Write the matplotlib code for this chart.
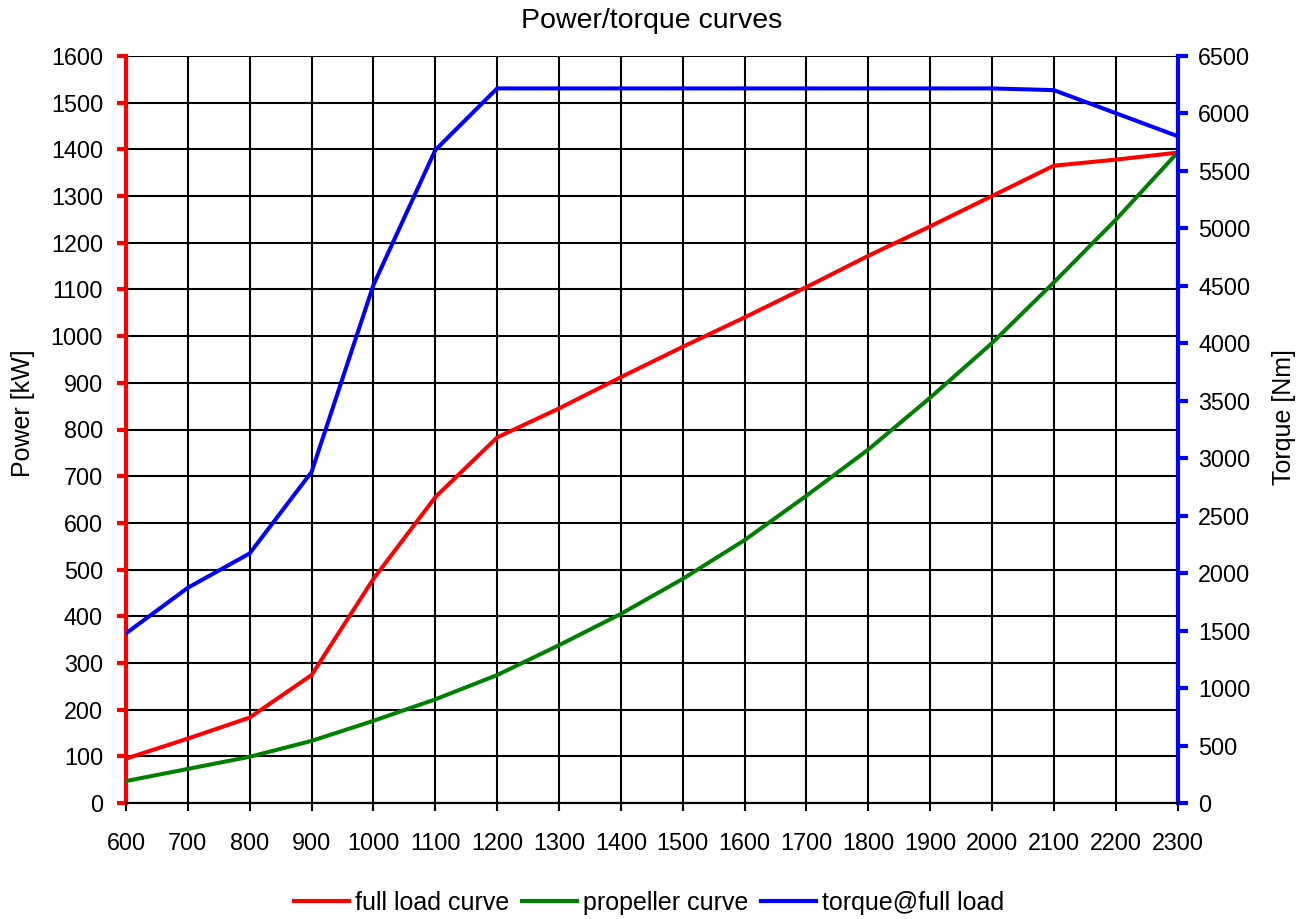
import matplotlib
matplotlib.use("Agg")
import matplotlib.pyplot as plt
from matplotlib.lines import Line2D

plt.rcParams['font.family'] = ['Liberation Sans', 'DejaVu Sans']

rpm = [600, 700, 800, 900, 1000, 1100, 1200, 1300, 1400, 1500, 1600, 1700,
       1800, 1900, 2000, 2100, 2200, 2300]
full_load = [95, 138, 183, 274, 480, 655, 783, 845, 912, 977, 1040, 1105,
             1172, 1235, 1300, 1365, 1378, 1393]
propeller = [47, 73, 99, 133, 176, 222, 274, 338, 405, 480, 563, 658,
             757, 868, 985, 1115, 1249, 1393]
torque = [1476, 1873, 2172, 2880, 4507, 5681, 6218, 6218, 6218, 6218, 6218,
          6218, 6218, 6218, 6218, 6203, 6003, 5803]

x_ticks = list(range(600, 2301, 100))
p_ticks = list(range(0, 1601, 100))
t_ticks = list(range(0, 6501, 500))

fig = plt.figure(figsize=(13.05, 9.19), dpi=100)
ax = fig.add_axes([126/1305, 1 - 803/919, (1177.5-126)/1305, (803-56)/919])
ax2 = ax.twinx()

ax.plot(rpm, full_load, color='#ff0000', lw=2.9, label='full load curve', zorder=3)
ax.plot(rpm, propeller, color='#008000', lw=2.9, label='propeller curve', zorder=3)
ax2.plot(rpm, torque, color='#0000ff', lw=2.9, label='torque@full load', zorder=3)

ax.set_xlim(600, 2300)
ax.set_ylim(0, 1600)
ax2.set_ylim(0, 6500)
ax.set_xticks(x_ticks)
ax.set_yticks(p_ticks)
ax2.set_yticks(t_ticks)
ax.grid(True, color='black', lw=1.5)
ax.set_axisbelow(True)

fs = 16.8
ax.tick_params(axis='x', direction='out', length=6, width=1.5, color='black',
               labelsize=fs, pad=15)
ax.tick_params(axis='y', direction='out', length=6.5, width=3, color='#ff0000',
               labelsize=fs, pad=10)
ax2.tick_params(axis='y', direction='out', length=7, width=3, color='#0000ff',
                labelsize=fs, pad=8)

for a in (ax, ax2):
    a.spines['top'].set_visible(False)
    a.spines['bottom'].set_color('black')
    a.spines['bottom'].set_linewidth(1.5)
ax.spines['left'].set_color('#ff0000')
ax.spines['left'].set_linewidth(3)
ax2.spines['left'].set_visible(False)
ax.spines['right'].set_visible(False)
ax2.spines['right'].set_color('#0000ff')
ax2.spines['right'].set_linewidth(3)

ax.set_ylabel('Power [kW]', fontsize=18)
ax2.set_ylabel('Torque [Nm]', fontsize=18)
ax.yaxis.label.set_va('center')
ax2.yaxis.label.set_va('center')
ax.yaxis.set_label_coords(-0.0975, 0.522)
ax2.yaxis.set_label_coords(1.1013, 0.517)
ax.set_title('Power/torque curves', fontsize=20.5, pad=20)

handles = [Line2D([], [], color='#ff0000', lw=3),
           Line2D([], [], color='#008000', lw=3),
           Line2D([], [], color='#0000ff', lw=3)]
labels = ['full load curve', 'propeller curve', 'torque@full load']
fig.legend(handles, labels, loc='center', bbox_to_anchor=(649/1305, 1 - 903/919),
           ncol=3, frameon=False, fontsize=18, handlelength=2.2,
           handletextpad=0.24, columnspacing=0.5)

fig.savefig('out.png', dpi=100)
